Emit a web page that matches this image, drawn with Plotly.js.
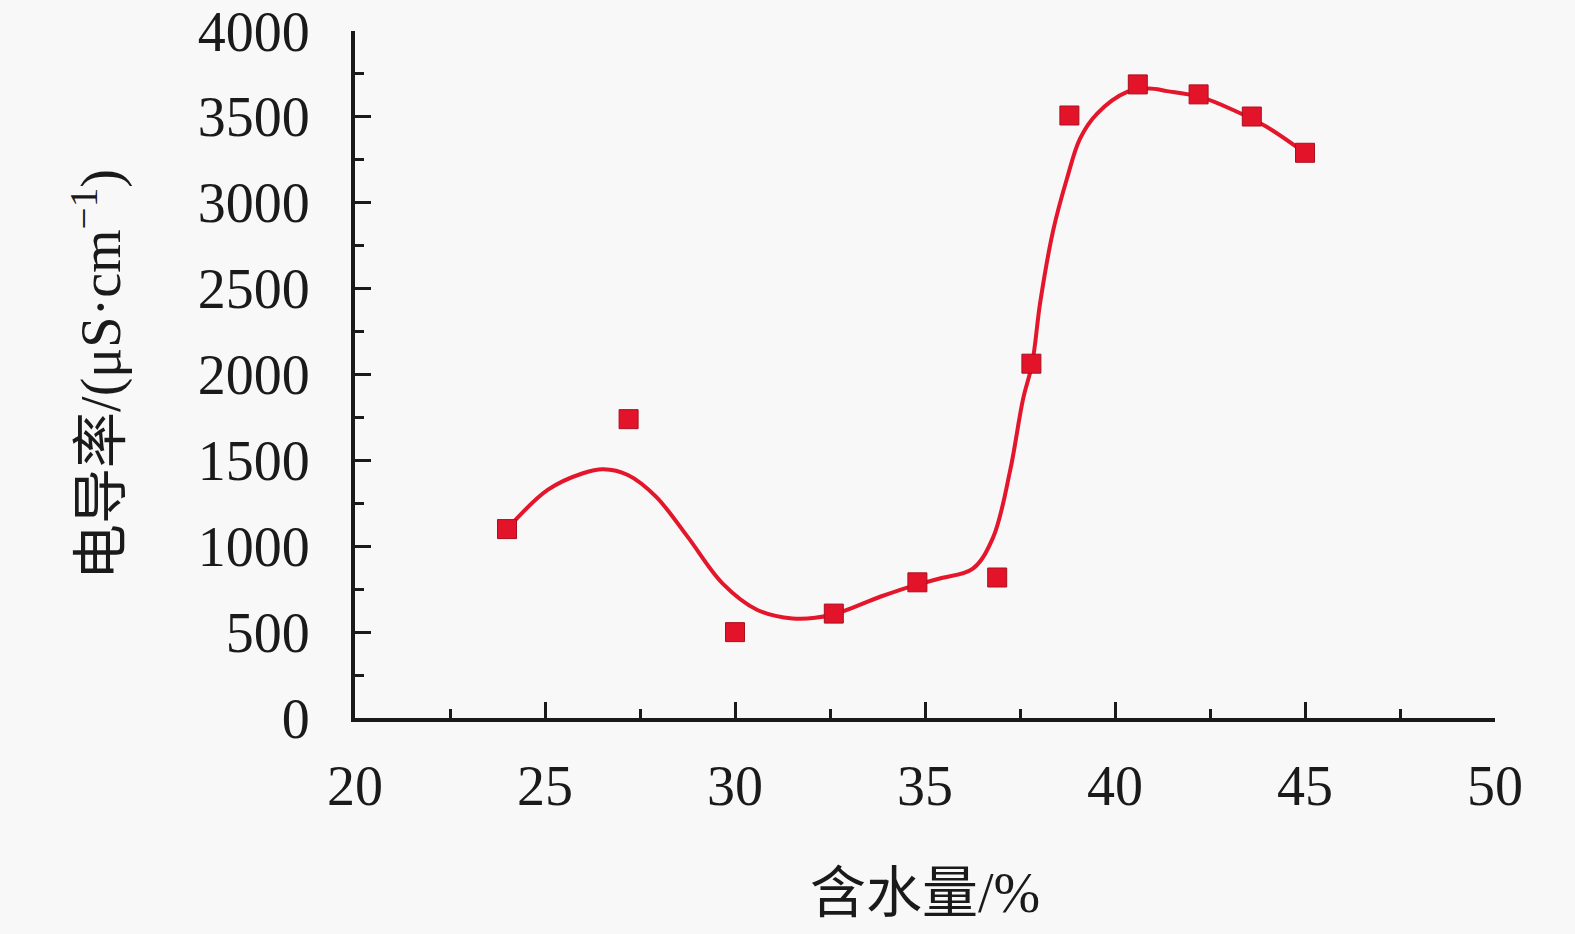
<!DOCTYPE html>
<html>
<head>
<meta charset="utf-8">
<script src="https://cdn.plot.ly/plotly-3.0.1.min.js"></script>
<style>html,body{margin:0;padding:0;background:#f8f8f8;}</style>
</head>
<body>
<div id="chart" style="width:1575px;height:934px;"></div>
<script>
// Measured points: water content (%) vs conductivity (μS·cm⁻¹)
const waterContent = [24.0, 27.2, 30.0, 32.6, 34.8, 36.9, 37.8, 38.8, 40.6, 42.2, 43.6, 45.0];
const conductivity = [1100, 1740, 500, 608, 790, 818, 2063, 3508, 3689, 3631, 3502, 3291];

// Smoothed fitted curve
const curveX = [24.0, 25.07, 26.0, 26.54, 27.18, 27.92, 28.75, 29.67, 30.59, 31.51, 32.53, 33.82, 34.74, 35.39, 36.26, 36.79, 37.24, 37.58, 37.82, 38.03, 38.37, 38.74, 39.08, 39.53, 40.32, 40.9, 41.37, 42.24, 43.11, 44.0, 45.0];
const curveY = [1100, 1328, 1425, 1448, 1415, 1289, 1056, 784, 629, 580, 600, 706, 774, 812, 870, 1050, 1440, 1857, 2064, 2417, 2836, 3144, 3374, 3519, 3645, 3665, 3650, 3616, 3540, 3441, 3290];

const xTitle = '含水量/%';
const yTitle = '电导率/(μS·cm<sup>−1</sup>)';

const serif = 'Liberation Serif, Times New Roman, Noto Sans CJK SC, serif';

const traces = [
  {
    x: curveX, y: curveY, type: 'scatter', mode: 'lines',
    line: {color: '#e3162b', width: 4, shape: 'spline', smoothing: 1},
    hoverinfo: 'skip', showlegend: false
  },
  {
    x: waterContent, y: conductivity, type: 'scatter', mode: 'markers',
    marker: {symbol: 'square', size: 19, color: '#e3142a', line: {color: '#a8101e', width: 1}},
    showlegend: false
  }
];

const axisCommon = {
  showgrid: false, zeroline: false, showline: true,
  linecolor: '#1a1a1a', linewidth: 4,
  ticks: 'inside', ticklen: 16, tickwidth: 3, tickcolor: '#1a1a1a',
  tickfont: {family: serif, size: 56, color: '#1a1a1a'}
};

const layout = {
  width: 1575, height: 934,
  paper_bgcolor: '#f8f8f8', plot_bgcolor: '#f8f8f8',
  margin: {l: 355, r: 80, t: 31, b: 216},
  showlegend: false,
  xaxis: Object.assign({}, axisCommon, {
    range: [20, 50], dtick: 5, tick0: 20,
    ticklabelstandoff: 16,
    minor: {dtick: 2.5, ticks: 'inside', ticklen: 9, tickwidth: 3, tickcolor: '#1a1a1a'},
    title: {text: xTitle, font: {family: serif, size: 56, color: '#1a1a1a'}, standoff: 58}
  }),
  yaxis: Object.assign({}, axisCommon, {
    range: [0, 4000], dtick: 500, tick0: 0,
    ticklabelstandoff: 30,
    minor: {dtick: 250, ticks: 'inside', ticklen: 9, tickwidth: 3, tickcolor: '#1a1a1a'},
    title: {text: yTitle, font: {family: serif, size: 56, color: '#1a1a1a'}, standoff: 60}
  })
};

Plotly.newPlot('chart', traces, layout, {displayModeBar: false, staticPlot: true});
</script>
</body>
</html>
